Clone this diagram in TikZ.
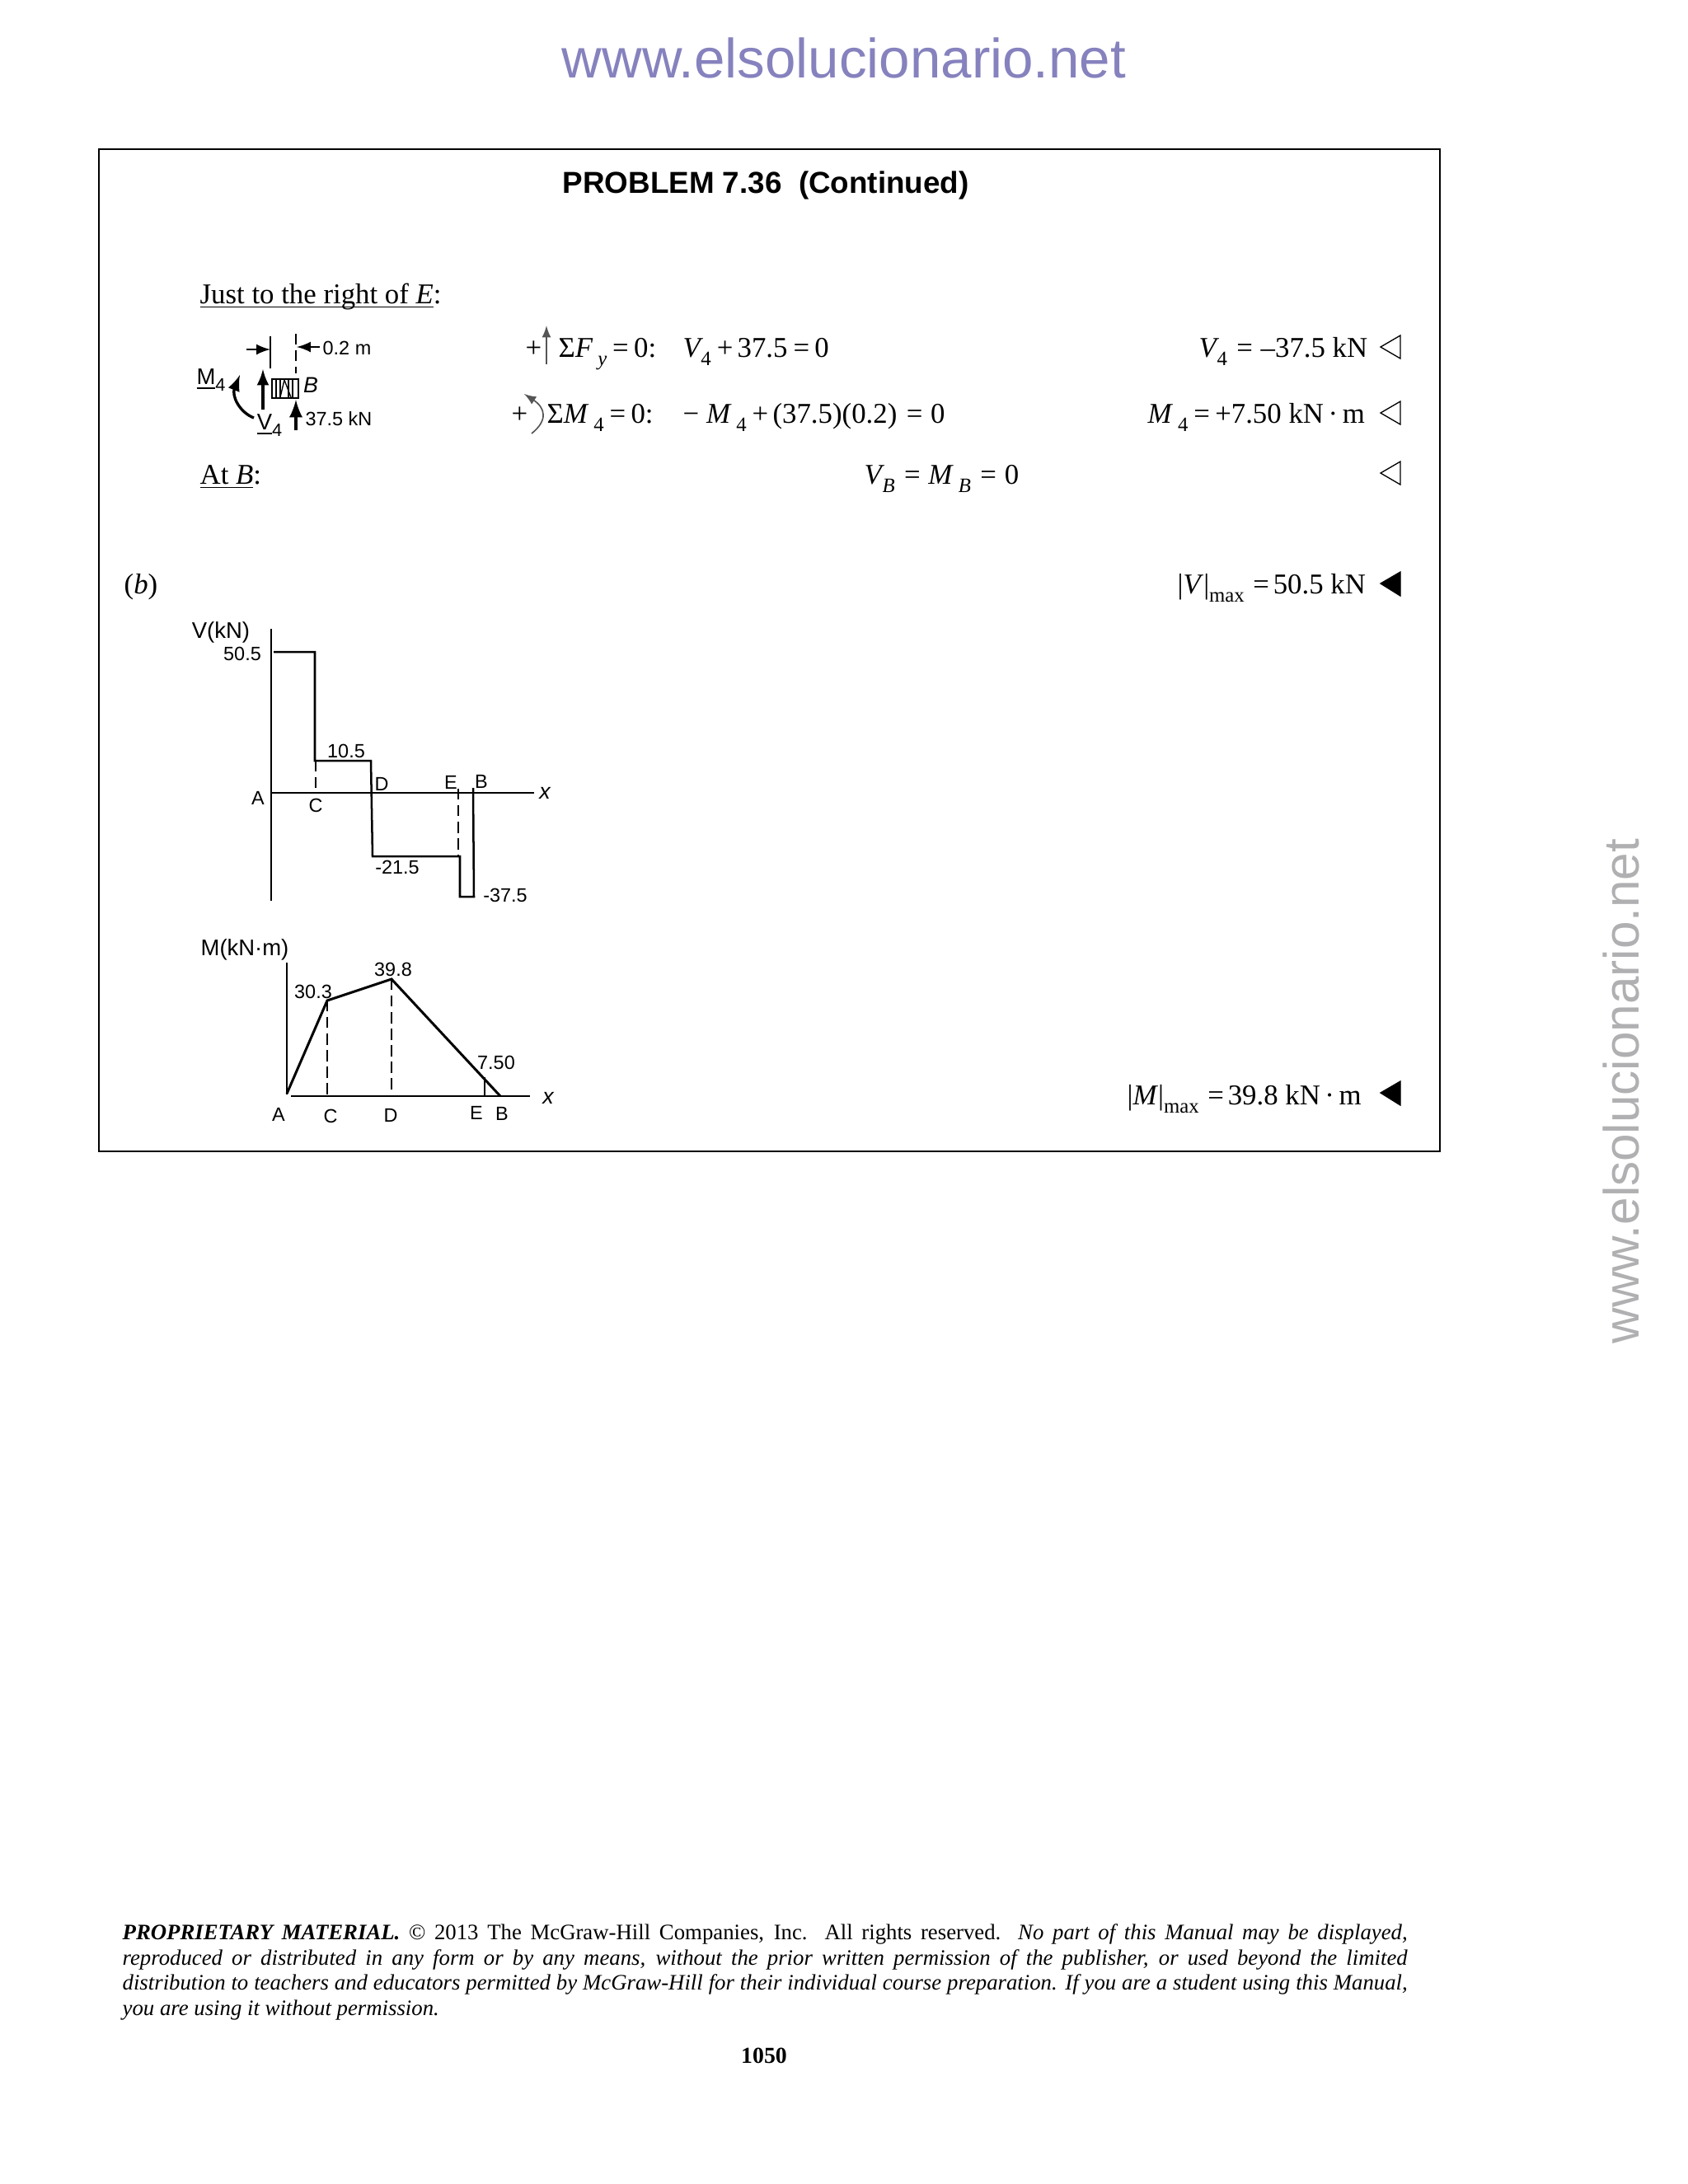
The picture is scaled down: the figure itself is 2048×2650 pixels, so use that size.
\documentclass[tikz,border=0pt]{standalone}
\usepackage{fontspec}
\setmainfont{Liberation Serif}
\setsansfont{Liberation Sans}
\newfontfamily\handfont{Liberation Sans}
\definecolor{markblue}{HTML}{8682BE}
\definecolor{markgray}{HTML}{B0B0B2}
\definecolor{signgray}{HTML}{555555}
\newcommand{\sbs}[1]{\raisebox{-0.3em}{\fontsize{7.4}{8}\selectfont #1}}
\newcommand{\sbi}[1]{\sbs{\textit{#1}}}
\newcommand{\ee}{\hspace{0.2em}=\hspace{0.18em}}
\newcommand{\eew}{\hspace{0.33em}=\hspace{0.28em}}
\newcommand{\pp}{\hspace{0.2em}+\hspace{0.15em}}
\newcommand{\dt}{\hspace{0.16em}·\hspace{0.16em}}
\tikzset{
	body/.style={anchor=base west,inner sep=0pt,font=\fontsize{10.4}{12}\selectfont},
	hand/.style={inner sep=0pt,font=\handfont\fontsize{7}{8}\selectfont},
	handbig/.style={inner sep=0pt,font=\handfont\fontsize{8.2}{9}\selectfont},
	handline/.style={line width=0.75pt},
	handdash/.style={line width=0.6pt,dash pattern=on 4pt off 2pt},
	opentri/.style={draw,line width=0.4pt,fill=white},
	solidtri/.style={draw,line width=0.4pt,fill=black}
}
\begin{document}
\begin{tikzpicture}[x=0.29883pt,y=-0.29883pt]
    \useasboundingbox (0,0) rectangle (2048,2650);
    % watermarks and frame
    \node[anchor=base,inner sep=0pt,text=markblue,font=\sffamily\fontsize{20.1}{24}\selectfont] (markTop) at (1024,94) {www.elsolucionario.net};
    \node[anchor=base,inner sep=0pt,rotate=90,text=markgray,font=\sffamily\fontsize{18}{22}\selectfont] (markSide) at (1988,1324) {www.elsolucionario.net};
    \draw[line width=0.6pt] (120,181) rectangle (1747,1397);
    \node[anchor=base west,inner sep=0pt,font=\sffamily\bfseries\fontsize{11}{13}\selectfont] (title) at (682,234) {PROBLEM 7.36~~(Continued)};

    % equations
    \node[body] (right) at (242,368) {\underline{\smash{Just to the right of \textit{E}}}:};
    \node[body] (plusF) at (637,433) {+};
    \node[body] (sumF) at (677,433) {Σ\textit{F}\,\sbi{y}\ee 0:};
    \node[body] (eqV) at (828,433) {\textit{V}\kern-0.08em\sbs{4}\pp 37.5\ee 0};
    \node[body] (ansV) at (1454,433) {\textit{V}\kern-0.08em\sbs{4}\eew –37.5 kN};
    \node[body] (plusM) at (620,513) {+};
    \node[body] (sumM) at (663,513) {Σ\textit{M}\,\sbs{4}\ee 0:};
    \node[body] (eqM) at (828,513) {− \textit{M}\,\sbs{4}\pp (37.5)(0.2)\eew 0};
    \node[body] (ansM) at (1392,513) {\textit{M}\,\sbs{4}\ee +7.50 kN\dt m};
    \node[body] (atB) at (242,587) {\underline{\smash{At \textit{B}}}:};
    \node[body] (eqB) at (1048,587) {\textit{V}\kern-0.08em\sbi{B}\eew \textit{M}\,\sbi{B}\eew 0};
    \node[body] (partb) at (150,720) {(\textit{b})};
    \node[body] (maxV) at (1428,720) {|\textit{V}|\sbs{max}\hspace{0.3em}=\hspace{0.14em}50.5 kN};
    \node[body] (maxM) at (1367,1340) {|\textit{M}|\sbs{max}\hspace{0.3em}=\hspace{0.14em}39.8 kN\dt m};

    % sign arrows
    \draw[signgray,line width=0.5pt,-latex] (663,442) -- (663,395);
    \draw[signgray,line width=0.5pt,-latex] (645,526) .. controls (665,510) and (662,495) .. (636,478);

    % answer marks
    \draw[opentri] (1699,407) -- (1675,421) -- (1699,435) -- cycle;
    \draw[opentri] (1699,487) -- (1675,501) -- (1699,515) -- cycle;
    \draw[opentri] (1699,560) -- (1675,574) -- (1699,588) -- cycle;
    \draw[solidtri] (1699,694) -- (1675,708) -- (1699,723) -- cycle;
    \draw[solidtri] (1699,1312) -- (1675,1326) -- (1699,1341) -- cycle;

    % free body sketch
    \draw[handline,-latex] (299,424) -- (328,424);
    \draw[handline] (328,408) -- (328,447);
    \draw[handdash] (359,405) -- (359,453);
    \draw[handline,-latex] (388,421) -- (360,421);
    \node[hand] (dimLabel) at (421,422) {0.2 m};
    \draw[handline] (330,460) rectangle (362,483);
    \foreach \hx in {335,340,350,355}
        \draw[line width=0.4pt] (\hx,460) -- (\hx,483);
    \draw[line width=0.4pt] (345,461) -- (340,482) (345,461) -- (353,482);
    \node[handbig,font=\handfont\itshape\fontsize{8}{9}\selectfont] (endB) at (377,467) {B};
    \node[handbig] (momLabel) at (256,461) {\underline{M}\raisebox{-0.3em}{\fontsize{6.5}{7}\selectfont 4}};
    \draw[line width=1pt,-latex] (308,507) .. controls (290,500) and (281,480) .. (291,455);
    \draw[line width=1pt,-latex] (319,497) -- (319,448);
    \node[handbig] (shearLabel) at (327,516) {\underline{V}\raisebox{-0.3em}{\fontsize{6.5}{7}\selectfont 4}};
    \draw[line width=1.2pt,-latex] (359,522) -- (359,485);
    \node[hand] (reaction) at (411,508) {37.5 kN};

    % shear diagram
    \draw[handline] (329,763) -- (329,1093);
    \draw[handline] (330,962) -- (648,962);
    \draw[handline] (332,791) -- (382,791) -- (382,923) -- (450,923) -- (452,1039) -- (558,1039) -- (558,1088) -- (575,1088) -- (574,956);
    \draw[handdash] (383,923) -- (383,960);
    \draw[handdash] (556,957) -- (556,1038);
    \node[handbig] (vTitle) at (268,767) {V(kN)};
    \node[hand] (vTop) at (294,793) {50.5};
    \node[hand] (vMid) at (420,911) {10.5};
    \node[hand] (vA) at (313,968) {A};
    \node[hand] (vC) at (383,977) {C};
    \node[hand] (vD) at (463,951) {D};
    \node[hand] (vE) at (547,949) {E};
    \node[hand] (vB) at (584,948) {B};
    \node[handbig,font=\handfont\itshape\fontsize{8}{9}\selectfont] (vX) at (661,962) {x};
    \node[hand] (vLow) at (482,1052) {-21.5};
    \node[hand] (vEnd) at (613,1086) {-37.5};

    % moment diagram
    \draw[handline] (348,1168) -- (348,1328);
    \draw[handline] (353,1330) -- (643,1330);
    \draw[line width=0.9pt] (348,1327) -- (397,1214) -- (475,1188) -- (607,1330);
    \draw[handdash] (397,1214) -- (397,1330);
    \draw[handdash] (475,1188) -- (475,1330);
    \draw[line width=0.5pt] (588,1307) -- (588,1330);
    \node[handbig] (mTitle) at (297,1152) {M(kN·m)};
    \node[hand] (mPeak) at (477,1176) {39.8};
    \node[hand] (mC) at (380,1203) {30.3};
    \node[hand] (mE) at (602,1289) {7.50};
    \node[hand] (mLabelA) at (338,1352) {A};
    \node[hand] (mLabelC) at (401,1354) {C};
    \node[hand] (mLabelD) at (474,1353) {D};
    \node[hand] (mLabelE) at (578,1350) {E};
    \node[hand] (mLabelB) at (609,1351) {B};
    \node[handbig,font=\handfont\itshape\fontsize{8}{9}\selectfont] (mX) at (665,1332) {x};

    % footer
    \node[anchor=north west,inner sep=0pt,text width=465.9pt,align=justify,font=\fontsize{8}{9.17}\selectfont] (footer) at (148,2334) {\textbf{\textit{PROPRIETARY MATERIAL.}} © 2013 The McGraw-Hill Companies, Inc. All rights reserved. \textit{No part of this Manual may be displayed,\linebreak reproduced or distributed in any form or by any means, without the prior written permission of the publisher, or used beyond the limited\linebreak distribution to teachers and educators permitted by McGraw-Hill for their individual course preparation. If you are a student using this Manual,\linebreak you are using it without permission.}};
    \node[anchor=base,inner sep=0pt,font=\bfseries\fontsize{8.3}{10}\selectfont] (pageNo) at (927,2503) {1050};
\end{tikzpicture}
\end{document}
